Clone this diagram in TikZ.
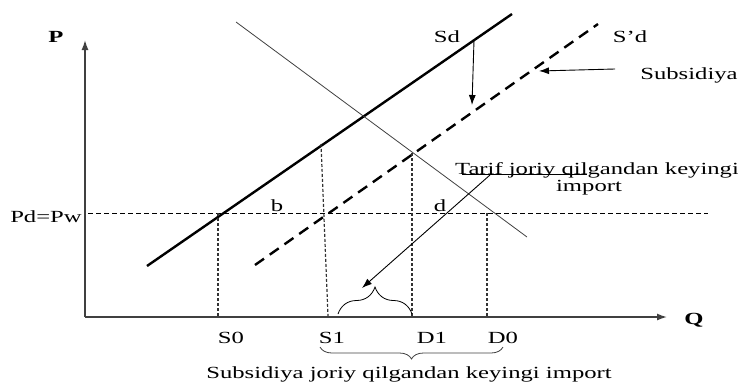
\documentclass[tikz,border=0pt]{standalone}
\usepackage{fontspec}
\setmainfont{Liberation Serif}[FakeStretch=1.45]
\usetikzlibrary{arrows.meta,decorations.pathreplacing}
\begin{document}
\begin{tikzpicture}[x=1pt,y=-1pt,
  lbl/.style={font=\fontsize{17}{19}\selectfont, inner sep=0pt, anchor=base},
  axislbl/.style={lbl, font=\fontsize{17}{19}\selectfont\bfseries},
  axis/.style={draw=black!75, line width=1.4pt, -{Latex[length=10pt,width=7pt]}},
  supply/.style={line width=2.4pt},
  newsupply/.style={line width=2.4pt, dash pattern=on 11pt off 7pt},
  demand/.style={line width=0.8pt, draw=black!75},
  price/.style={line width=0.8pt, dash pattern=on 5pt off 3pt},
  drop/.style={line width=1.2pt, dash pattern=on 3pt off 2pt, draw=black!80},
  pointer/.style={line width=0.9pt, -{Latex[length=10pt,width=7pt]}},
  bracepath/.style={line width=0.8pt, decorate},
]
\useasboundingbox (0,0) rectangle (738,383);

% axes
\coordinate (O) at (85,317);
\coordinate (Ytop) at (85,40);
\coordinate (Xend) at (667,317);
\draw[axis] (O) -- (Ytop);
\draw[axis] (O) -- (Xend);
\node[axislbl] (P) at (56,42) {P};
\node[axislbl] (Q) at (694,324) {Q};

% supply and demand lines
\coordinate (sdA) at (147,266);
\coordinate (sdB) at (512,14);
\draw[supply] (sdA) -- (sdB);
\coordinate (snA) at (255,265);
\coordinate (snB) at (598,24);
\draw[newsupply] (snA) -- (snB);
\coordinate (dA) at (236,22);
\coordinate (dB) at (527,237);
\draw[demand] (dA) -- (dB);

% world price line
\coordinate (pwA) at (88,213);
\coordinate (pwB) at (708,213);
\draw[price] (pwA) -- (pwB);
\node[lbl] (pdpw) at (46,222) {Pd=Pw};

% drop lines
\coordinate (s0t) at (218,213);
\coordinate (s0b) at (218,316);
\coordinate (s1t) at (321,144);
\coordinate (s1b) at (328,316);
\coordinate (d1t) at (412,153);
\coordinate (d1b) at (412,316);
\coordinate (d0t) at (487,213);
\coordinate (d0b) at (487,316);
\draw[drop] (s0t) -- (s0b);
\draw[drop] (s1t) -- (s1b);
\draw[drop] (d1t) -- (d1b);
\draw[drop] (d0t) -- (d0b);

\node[lbl] (S0) at (231,343) {S0};
\node[lbl] (S1) at (332,343) {S1};
\node[lbl] (D1) at (432,343) {D1};
\node[lbl] (D0) at (503,343) {D0};
\node[lbl] (b) at (277,211) {b};
\node[lbl] (d) at (440,211) {d};

% curve labels
\node[lbl] (Sd) at (447,42) {Sd};
\node[lbl] (Snd) at (630,42) {S’d};
\node[lbl] (Subs) at (689,79) {Subsidiya};

% shift arrows
\coordinate (shA) at (474,40);
\coordinate (shB) at (472,105);
\draw[pointer] (shA) -- (shB);
\coordinate (subA) at (615,69);
\coordinate (subB) at (539,71);
\draw[pointer] (subA) -- (subB);

% tariff import label and arrow
\node[lbl] (tarif) at (597,174) {Tarif joriy qilgandan keyingi};
\node[lbl] (imp) at (589,191) {import};
\coordinate (ulA) at (462,174.5);
\coordinate (ulB) at (587,174.5);
\draw[line width=0.8pt] (ulA) -- (ulB);
\coordinate (tA) at (490,175);
\coordinate (tB) at (362,288);
\draw[pointer] (tA) -- (tB);

% small brace
\coordinate (brA) at (338,314);
\coordinate (brB) at (412,314);
\draw[bracepath, decoration={brace, amplitude=27pt}] (brA) -- (brB);

% big brace
\coordinate (bbA) at (503,347);
\coordinate (bbB) at (320,347);
\draw[bracepath, draw=black!75, decoration={brace, amplitude=12pt}] (bbA) -- (bbB);
\node[lbl] (subsimp) at (409,378) {Subsidiya joriy qilgandan keyingi import};
\end{tikzpicture}
\end{document}
